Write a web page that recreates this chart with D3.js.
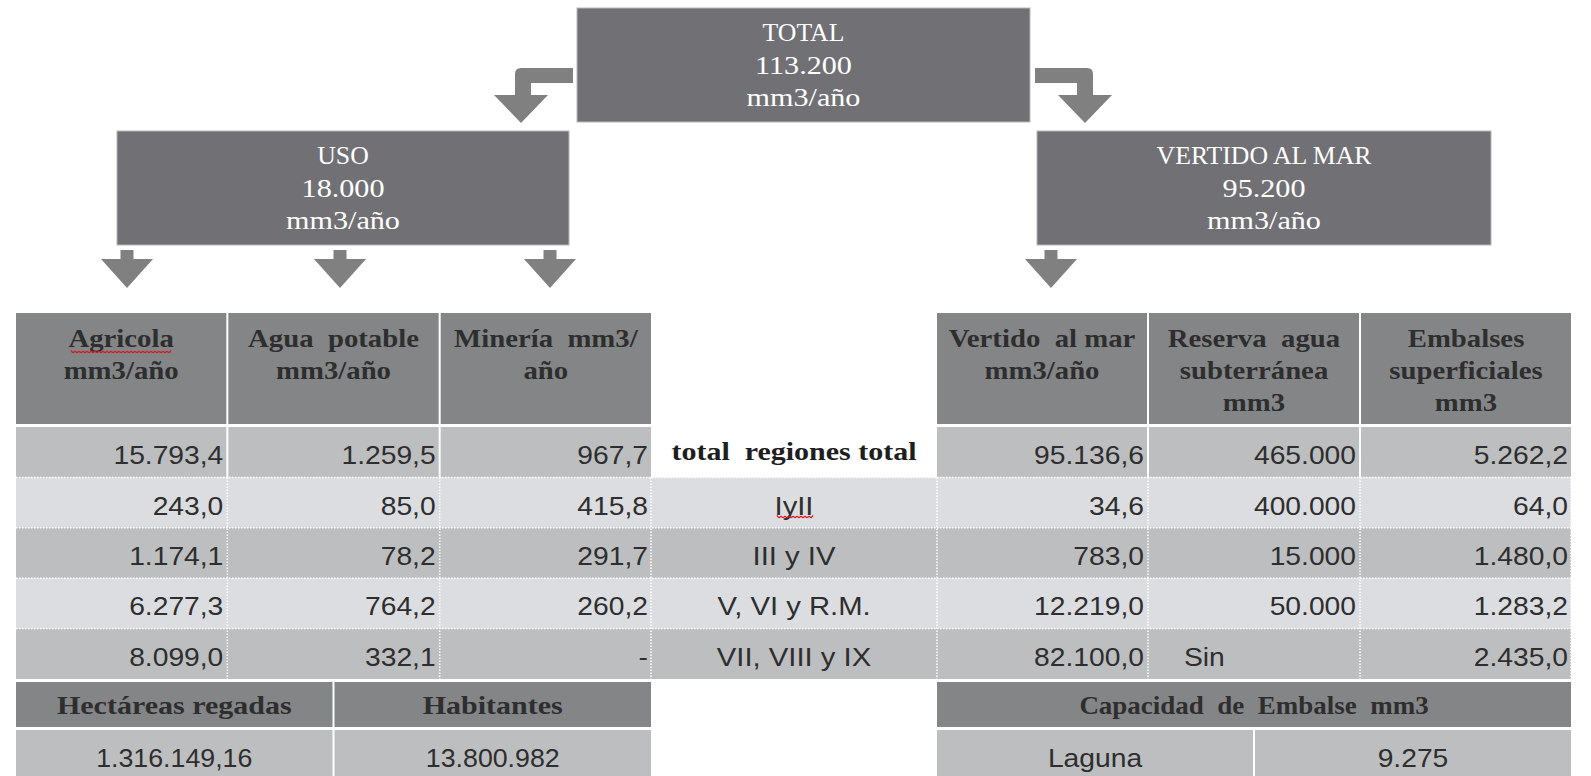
<!DOCTYPE html>
<html>
<head>
<meta charset="utf-8">
<script src="https://cdn.jsdelivr.net/npm/d3@7"></script>
<style>
  body { margin: 0; background: #fff; }
  svg { display: block; }
</style>
</head>
<body>
<div id="chart"></div>
<script>
// --- datos ---
const totalLines = ["TOTAL", "113.200", "mm3/año"];
const usoLines = ["USO", "18.000", "mm3/año"];
const vertidoLines = ["VERTIDO AL MAR", "95.200", "mm3/año"];

const usoHeaders = [["Agricola", "mm3/año"], ["Agua  potable", "mm3/año"], ["Minería  mm3/", "año"]];
const vertidoHeaders = [["Vertido  al mar", "mm3/año"], ["Reserva  agua", "subterránea", "mm3"], ["Embalses", "superficiales", "mm3"]];

const regiones = ["total  regiones total", "IyII", "III y IV", "V, VI y R.M.", "VII, VIII y IX"];
const agricola = ["15.793,4", "243,0", "1.174,1", "6.277,3", "8.099,0"];
const aguaPotable = ["1.259,5", "85,0", "78,2", "764,2", "332,1"];
const mineria = ["967,7", "415,8", "291,7", "260,2", "-"];
const vertidoMar = ["95.136,6", "34,6", "783,0", "12.219,0", "82.100,0"];
const reservaSub = ["465.000", "400.000", "15.000", "50.000", "Sin"];
const embalses = ["5.262,2", "64,0", "1.480,0", "1.283,2", "2.435,0"];

const usoFootHeads = ["Hectáreas regadas", "Habitantes"];
const usoFootVals = ["1.316.149,16", "13.800.982"];
const capacidadHead = "Capacidad  de  Embalse  mm3";
const capacidadVals = ["Laguna", "9.275"];

// --- estilo ---
const W = 1591, H = 776;
const SERIF = "'Liberation Serif', 'Times New Roman', serif";
const SANS = "'Liberation Sans', Arial, sans-serif";
const SX = 1.13;
const BOX = "#717175", ARROW = "#808080", HEAD = "#848587";
const DARK = "#bdbec0", LIGHT = "#dcdde0";
const HEAD_TXT = {family: SERIF, weight: "bold", size: 25, fill: "#2e2e2e", sx: 1.15};

const svg = d3.select("#chart").append("svg")
    .attr("width", W).attr("height", H)
    .attr("viewBox", [0, 0, W, H]);

const txt = (sel, x, y, s, o = {}) => sel.append("text")
    .attr("transform", `translate(${x},${y}) scale(${o.sx || SX},1)`)
    .attr("text-anchor", o.anchor || "middle")
    .attr("font-family", o.family || SANS)
    .attr("font-size", o.size || 25)
    .attr("font-weight", o.weight || "normal")
    .attr("fill", o.fill || "#2e2e2e")
    .style("white-space", "pre")
    .text(s);

// cajas superiores
const boxes = [
    {lines: totalLines, x: 577, y: 8, w: 453, h: 114},
    {lines: usoLines, x: 117, y: 131, w: 452, h: 114},
    {lines: vertidoLines, x: 1037, y: 131, w: 454, h: 114}
];
boxes.forEach(b => {
    svg.append("rect").attr("x", b.x).attr("y", b.y).attr("width", b.w).attr("height", b.h)
        .attr("fill", BOX).attr("stroke", "#b8b8bb").attr("stroke-width", 1);
    b.lines.forEach((l, i) => txt(svg, b.x + b.w / 2, b.y + 33 + i * 32.5, l,
        {family: SERIF, size: 26, fill: "#fff", sx: l === l.toUpperCase() && /[A-Z]/.test(l) ? 0.99 : 1.16}));
});

// flechas
const ga = svg.append("g").attr("fill", ARROW);
ga.append("path").attr("d",
    "M573,68 L521,68 Q515,68 515,74 L515,95 L494,95 L521,123 L548,95 L531,95 L531,83 L573,83 Z");
ga.append("path").attr("d",
    "M1035,68 L1087,68 Q1093,68 1093,74 L1093,95 L1112,95 L1085,123 L1058,95 L1077,95 L1077,83 L1035,83 Z");
const downArrow = cx => `M${cx - 6.5},250 L${cx + 6.5},250 L${cx + 6.5},259 L${cx + 26},259 L${cx},288 L${cx - 26},259 L${cx - 6.5},259 Z`;
[127, 340, 550, 1051].forEach(cx => ga.append("path").attr("d", downArrow(cx)));

// escalas de la tabla
const xL = d3.scaleBand().domain(d3.range(3)).range([16, 651]).paddingInner(0.0095);
const xR = d3.scaleBand().domain(d3.range(3)).range([937, 1571]).paddingInner(0.0095);
const y = d3.scaleBand().domain(d3.range(5)).range([427, 679]);
const midX = [651, 937];
const headY = [313, 424];

// encabezados
[[xL, usoHeaders], [xR, vertidoHeaders]].forEach(([x, heads]) => {
    heads.forEach((lines, c) => {
        svg.append("rect").attr("x", x(c)).attr("y", headY[0])
            .attr("width", x.bandwidth()).attr("height", headY[1] - headY[0]).attr("fill", HEAD);
        lines.forEach((l, i) => txt(svg, x(c) + x.bandwidth() / 2, 347 + i * 32, l, HEAD_TXT));
    });
});

// filas de datos
const gb = svg.append("g");
y.domain().forEach(r => {
    const fill = r % 2 === 0 ? DARK : LIGHT;
    if (r === 0) {
        [xL, xR].forEach(x => x.domain().forEach(c => gb.append("rect")
            .attr("x", x(c)).attr("y", y(r)).attr("width", x.bandwidth()).attr("height", y.bandwidth())
            .attr("fill", fill)));
    } else {
        gb.append("rect").attr("x", 16).attr("y", y(r)).attr("width", 1571 - 16)
            .attr("height", y.bandwidth()).attr("fill", fill);
    }
});

const dots = svg.append("g").attr("stroke", "#fff").attr("stroke-width", 1.5)
    .attr("stroke-dasharray", "1.5 1.5");
y.domain().slice(1).forEach(r => dots.append("line")
    .attr("x1", 16).attr("x2", 1571).attr("y1", y(r)).attr("y2", y(r)));
const vx = [xL(1) - 1, xL(2) - 1, midX[0], midX[1], xR(1) - 1, xR(2) - 1, 1571];
vx.forEach(x => dots.append("line").attr("x1", x).attr("x2", x)
    .attr("y1", y(1)).attr("y2", y(4) + y.bandwidth()));

const cols = [[xL, [agricola, aguaPotable, mineria]], [xR, [vertidoMar, reservaSub, embalses]]];
cols.forEach(([x, series]) => series.forEach((vals, c) => vals.forEach((v, r) => {
    const yy = y(r) + y.bandwidth() / 2 + 12;
    if (/^[A-Za-z]{2,}/.test(v)) txt(svg, x(c) + 35, yy, v, {anchor: "start"});
    else txt(svg, x(c) + x.bandwidth() - 3, yy, v, {anchor: "end"});
})));

const midC = (midX[0] + midX[1]) / 2;
regiones.forEach((v, r) => {
    const yy = y(r) + y.bandwidth() / 2 + 10;
    if (r === 0) txt(svg, midC, yy - 2, v, {...HEAD_TXT, fill: "#1e1e1e", sx: 1.2});
    else txt(svg, midC, yy + 2, v, {sx: 1.17});
});

// subrayado ondulado de corrector
const wavy = (x0, x1, yy) => {
    const pts = d3.range(x0, x1, 2).map((x, i) => [x, yy + (i % 2 ? 1.6 : -1.6)]);
    svg.append("path").attr("d", d3.line().curve(d3.curveBasis)(pts))
        .attr("fill", "none").attr("stroke", "#e0141e").attr("stroke-width", 1.2);
};
wavy(71, 173, 352);
wavy(777, 814, 517);

// pie de tabla
const fL = d3.scaleBand().domain(d3.range(2)).range([16, 651]).paddingInner(0.0063);
const fR = d3.scaleBand().domain(d3.range(2)).range([937, 1571]).paddingInner(0.0063);
const footHead = [682, 727], footVal = [730, 790];
usoFootHeads.forEach((h, c) => {
    svg.append("rect").attr("x", fL(c)).attr("y", footHead[0]).attr("width", fL.bandwidth())
        .attr("height", footHead[1] - footHead[0]).attr("fill", HEAD);
    txt(svg, fL(c) + fL.bandwidth() / 2, 714, h, {...HEAD_TXT, sx: 1.2});
});
usoFootVals.forEach((v, c) => {
    svg.append("rect").attr("x", fL(c)).attr("y", footVal[0]).attr("width", fL.bandwidth())
        .attr("height", footVal[1] - footVal[0]).attr("fill", DARK);
    txt(svg, fL(c) + fL.bandwidth() / 2, 767, v, {sx: 1.07});
});
svg.append("rect").attr("x", 937).attr("y", footHead[0]).attr("width", 1571 - 937)
    .attr("height", footHead[1] - footHead[0]).attr("fill", HEAD);
txt(svg, (937 + 1571) / 2, 714, capacidadHead, {...HEAD_TXT, sx: 1.08});
capacidadVals.forEach((v, c) => {
    svg.append("rect").attr("x", fR(c)).attr("y", footVal[0]).attr("width", fR.bandwidth())
        .attr("height", footVal[1] - footVal[0]).attr("fill", DARK);
    txt(svg, fR(c) + fR.bandwidth() / 2, 767, v);
});
</script>
</body>
</html>
